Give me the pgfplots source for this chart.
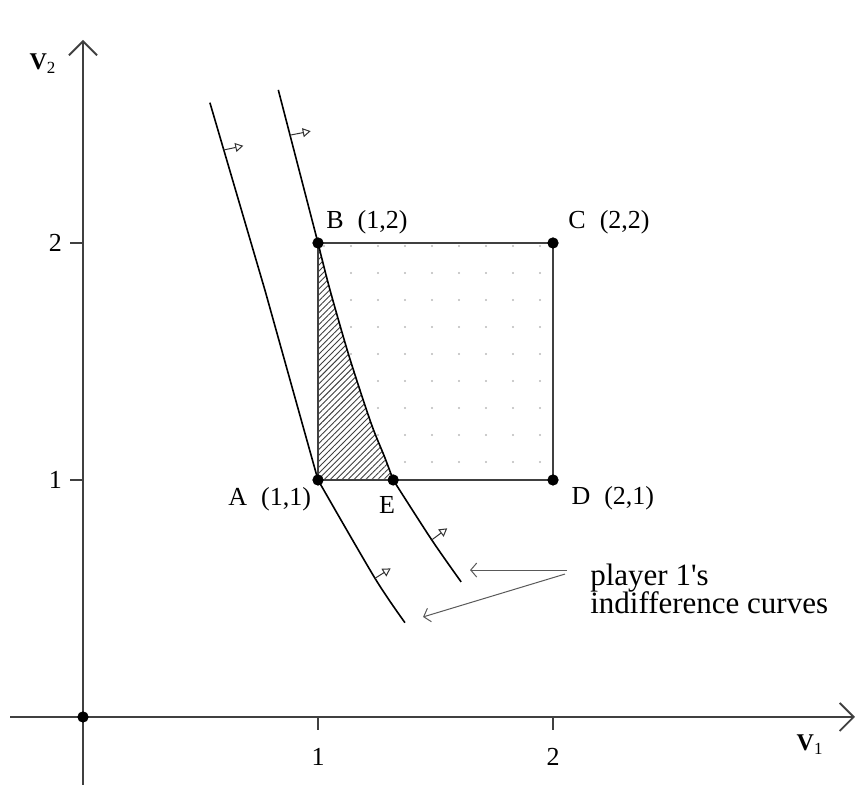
\documentclass[border=0pt]{standalone}
\usepackage{fontspec}
\setmainfont{Liberation Serif}
\usepackage{pgfplots}
\pgfplotsset{compat=1.18}
\usetikzlibrary{patterns,patterns.meta,arrows.meta}
\pgfdeclarepatternformonly{sparsedots}{\pgfqpoint{-1pt}{-1pt}}{\pgfqpoint{1pt}{1pt}}{\pgfqpoint{13.5pt}{13.5pt}}{\pgfpathcircle{\pgfqpoint{0pt}{0pt}}{0.55pt}\pgfusepath{fill}}
\newcommand{\lbl}{\fontsize{13}{15}\selectfont}
\newcommand{\bigtxt}{\fontsize{15.5}{17}\selectfont}
\begin{document}
\begin{tikzpicture}
\begin{axis}[
  scale only axis, width=422.5pt, height=372.5pt,
  xmin=-0.3106, xmax=3.285, ymin=-0.2869, ymax=2.8565,
  axis lines=middle,
  axis line style={black!75, line width=0.9pt, -{Straight Barb[length=7pt,width=14pt,line width=0.9pt]}},
  xtick={1,2}, ytick={1,2},
  tick align=outside, major tick length=6.5pt,
  tick style={black!75, line width=0.6pt},
  /pgf/number format/assume math mode=true,
  ticklabel style={font=\lbl},
  xticklabel style={yshift=-5.5pt},
  yticklabel style={xshift=-0.5pt},
  clip=false,
]
% dotted square (feasible region)
\addplot[draw=none, pattern=sparsedots, pattern color=gray!55] coordinates {(1,1) (1,2) (2,2) (2,1)} -- cycle;
% hatched region between x=1, y=1 and the curve from B to E
\addplot[draw=none, fill=white, postaction={pattern={Lines[angle=45,distance=2.1pt,line width=0.45pt]}, pattern color=black!75}] coordinates {
 (1,2) (1.051,1.802) (1.133,1.520) (1.226,1.239) (1.283,1.098) (1.32,1.0) (1,1)} -- cycle;
% square
\addplot[black!75, line width=0.9pt] coordinates {(1,1) (1,2) (2,2) (2,1) (1,1)};
% indifference curve through A
\addplot[black, line width=0.8pt] coordinates {(0.540,2.592) (0.7745,1.80) (1,1)};
\addplot[black, line width=0.8pt, smooth] coordinates {(1,1) (1.2426,0.585) (1.370,0.398)};
% indifference curve through B and E
\addplot[black, line width=0.8pt] coordinates {(0.831,2.646) (1,2)};
\addplot[black, line width=0.8pt, smooth] coordinates {
 (1,2) (1.051,1.802) (1.133,1.520) (1.226,1.239) (1.283,1.098) (1.32,1.0)};
\addplot[black, line width=0.8pt, smooth] coordinates {(1.32,1.0) (1.484,0.747) (1.609,0.570)};
% direction arrows
\draw[black!80, line width=0.5pt, -{Triangle[open,length=4pt,width=4.5pt]}] (axis cs:0.597,2.392) -- (axis cs:0.682,2.410);
\draw[black!80, line width=0.5pt, -{Triangle[open,length=4pt,width=4.5pt]}] (axis cs:0.881,2.455) -- (axis cs:0.969,2.472);
\draw[black!80, line width=0.5pt, -{Triangle[open,length=4pt,width=4.5pt]}] (axis cs:1.2426,0.585) -- (axis cs:1.309,0.627);
\draw[black!80, line width=0.5pt, -{Triangle[open,length=4pt,width=4.5pt]}] (axis cs:1.484,0.747) -- (axis cs:1.550,0.796);
% points
\addplot[only marks, mark=*, mark size=2.6pt, black] coordinates {(0,0) (1,1) (1,2) (2,2) (2,1) (1.32,1)};
% labels
\node[anchor=west, inner sep=0pt, font=\lbl] at (axis cs:1.034,2.089) {B\hspace{7pt}(1,2)};
\node[anchor=west, inner sep=0pt, font=\lbl] at (axis cs:2.064,2.089) {C\hspace{7pt}(2,2)};
\node[anchor=west, inner sep=0pt, font=\lbl] at (axis cs:0.617,0.92) {A\hspace{7pt}(1,1)};
\node[anchor=west, inner sep=0pt, font=\lbl] at (axis cs:2.077,0.925) {D\hspace{7pt}(2,1)};
\node[anchor=center, inner sep=0pt, font=\lbl] at (axis cs:1.294,0.895) {E};
\node[anchor=base west, inner sep=0pt, font=\bigtxt] at (axis cs:2.157,0.553) {player 1\textquotesingle s};
\node[anchor=base west, inner sep=0pt, font=\bigtxt] at (axis cs:2.157,0.435) {indifference curves};
\draw[black!65, line width=0.5pt, -{Straight Barb[length=3pt,width=7pt]}] (axis cs:2.060,0.620) -- (axis cs:1.647,0.620);
\draw[black!65, line width=0.5pt, -{Straight Barb[length=3pt,width=7pt]}] (axis cs:2.051,0.603) -- (axis cs:1.447,0.422);
\node[inner sep=0pt, font=\fontsize{12}{14}\selectfont] at (axis cs:-0.170,2.757) {\textbf{V}\textsubscript{\fontsize{8.5}{10}\selectfont 2}};
\node[inner sep=0pt, font=\fontsize{12}{14}\selectfont] at (axis cs:3.094,-0.118) {\textbf{V}\textsubscript{\fontsize{8.5}{10}\selectfont 1}};
\coordinate (bbsw) at (axis cs:-0.3532,-0.2911);
\coordinate (bbne) at (axis cs:3.2894,3.0253);
\end{axis}
\pgfresetboundingbox
\path[use as bounding box] (bbsw) rectangle (bbne);
\end{tikzpicture}
\end{document}
